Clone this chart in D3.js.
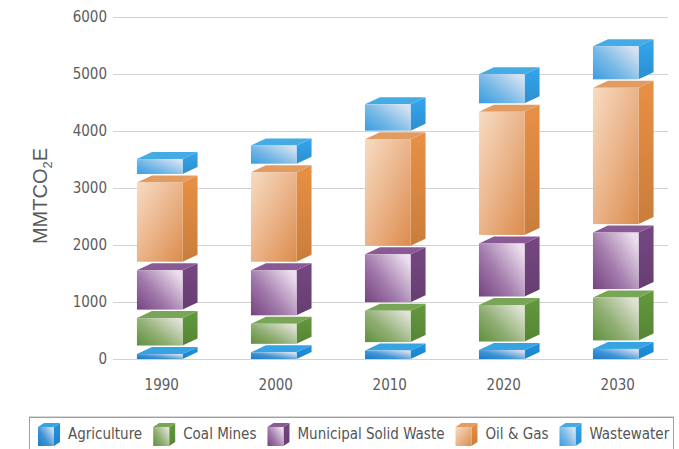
<!DOCTYPE html>
<html>
<head>
<meta charset="utf-8">
<script src="https://cdn.jsdelivr.net/npm/d3@7"></script>
<style>
  html, body { margin: 0; padding: 0; background: #fff; }
  svg { display: block; }
  .narrow { font-family: "DejaVu Sans Condensed", "Liberation Sans Narrow", sans-serif; }
</style>
</head>
<body>
<script>
// Emissions by source, MMTCO2E
const years = ["1990", "2000", "2010", "2020", "2030"];
const seriesNames = ["Agriculture", "Coal Mines", "Municipal Solid Waste", "Oil & Gas", "Wastewater"];
const agriculture = [210, 240, 270, 280, 300];
const coalMines = [630, 500, 700, 790, 900];
const municipalSolidWaste = [840, 940, 990, 1080, 1140];
const oilGas = [1540, 1720, 2020, 2310, 2540];
const wastewater = [410, 470, 610, 660, 730];
const yTicks = [0, 1000, 2000, 3000, 4000, 5000, 6000];

const seriesValues = [agriculture, coalMines, municipalSolidWaste, oilGas, wastewater];
const rows = years.map((yr, i) => {
  const r = { year: yr };
  seriesNames.forEach((s, k) => { r[s] = seriesValues[k][i]; });
  return r;
});

// face shading per source: front gradient stops, top, side
const palette = {
  "Agriculture":           { dir: "bl", f0: "#1f78c4", f1: "#3c95d6", f2: "#d7dcef", top: "#36a4e2", side: "#1c88d2" },
  "Coal Mines":            { dir: "bl", f0: "#5f8f3c", f1: "#8fae72", f2: "#dfe2d4", top: "#79a656", side: "#5b8c38" },
  "Municipal Solid Waste": { dir: "bl", f0: "#74437f", f1: "#a27aab", f2: "#ecdeee", top: "#8a5a95", side: "#6c4177" },
  "Oil & Gas":             { dir: "tl", f0: "#dc8c4c", f1: "#e9b084", f2: "#f7dcc3", top: "#e29c62", side: "#d4843f" },
  "Wastewater":            { dir: "bl", f0: "#3a9ce0", f1: "#76b8e6", f2: "#d6e2f2", top: "#45abe5", side: "#2f97da" }
};

const W = 679, H = 449;
const svg = d3.select("body").append("svg").attr("width", W).attr("height", H);
const defs = svg.append("defs");

seriesNames.forEach((s, k) => {
  const p = palette[s];
  const g = defs.append("linearGradient").attr("id", "front" + k);
  if (p.dir === "bl") g.attr("x1", 0).attr("y1", 1).attr("x2", 1).attr("y2", 0.2);
  else g.attr("x1", 1).attr("y1", 1).attr("x2", 0).attr("y2", 0);
  g.append("stop").attr("offset", "0%").attr("stop-color", p.f0);
  g.append("stop").attr("offset", "45%").attr("stop-color", p.f1);
  g.append("stop").attr("offset", "100%").attr("stop-color", p.f2);
  const sg = defs.append("linearGradient").attr("id", "side" + k)
    .attr("x1", 0).attr("y1", 0).attr("x2", 0).attr("y2", 1);
  sg.append("stop").attr("offset", "0%").attr("stop-color", d3.color(p.side).brighter(0.25));
  sg.append("stop").attr("offset", "100%").attr("stop-color", d3.color(p.side).darker(0.15));
});

const plotLeft = 113, plotRight = 668;
const y = d3.scaleLinear().domain([0, 6000]).range([359, 17]);
const x = d3.scaleBand().domain(years).range([plotLeft, 662.5])
  .paddingInner(0.6).paddingOuter(0.21);

const depthX = 15, depthY = 7, gap = 1.5;

// gridlines
svg.append("g").selectAll("line").data(yTicks).join("line")
  .attr("x1", plotLeft).attr("x2", plotRight)
  .attr("y1", d => Math.round(y(d)) + 0.5).attr("y2", d => Math.round(y(d)) + 0.5)
  .attr("stroke", "#d2d2d2").attr("stroke-width", 1);

// y axis labels
const yAxis = svg.append("g").attr("transform", `translate(${plotLeft},0)`)
  .call(d3.axisLeft(y).tickValues(yTicks).tickSize(0).tickPadding(6).tickFormat(d3.format("d")));
yAxis.select(".domain").remove();
yAxis.selectAll("text").attr("class", "narrow").attr("font-size", 15)
  .attr("font-family", null).attr("fill", "#5c5c5c");

// x axis labels
svg.append("g").selectAll("text").data(years).join("text")
  .attr("class", "narrow")
  .attr("x", d => x(d) + x.bandwidth() / 2 + 2)
  .attr("y", 390)
  .attr("text-anchor", "middle")
  .attr("font-size", 15).attr("fill", "#5c5c5c")
  .text(d => d);

// y axis title
const title = svg.append("text")
  .attr("transform", "translate(47,196) rotate(-90)")
  .attr("text-anchor", "middle")
  .attr("font-family", "Liberation Sans, Arial, sans-serif")
  .attr("font-size", 20).attr("fill", "#5a5a5a");
title.append("tspan").text("MMTCO");
title.append("tspan").attr("font-size", 13).attr("dy", 5).text("2");
title.append("tspan").attr("dy", -5).text("E");

// 3D box helper
function box(g, x0, w, yb, yt, dx, dy, k) {
  const ft = yt + dy;
  g.append("path")
    .attr("d", `M${x0 + w},${yb}L${x0 + w + dx},${yb - dy}L${x0 + w + dx},${yt}L${x0 + w},${ft}Z`)
    .attr("fill", `url(#side${k})`);
  g.append("path")
    .attr("d", `M${x0},${ft}L${x0 + dx},${yt}L${x0 + w + dx},${yt}L${x0 + w},${ft}Z`)
    .attr("fill", palette[seriesNames[k]].top);
  g.append("rect")
    .attr("x", x0).attr("y", ft).attr("width", w).attr("height", Math.max(0, yb - ft))
    .attr("fill", `url(#front${k})`);
}

const stacked = d3.stack().keys(seriesNames)(rows);
const bars = svg.append("g");
stacked.forEach((layer, k) => {
  const lg = bars.append("g").attr("class", "series");
  layer.forEach(d => {
    const yr = d.data.year;
    const yb = d[0] > 0 ? y(d[0]) - gap : y(d[0]);
    const yt = y(d[1]);
    box(lg, x(yr), x.bandwidth(), yb, yt, depthX, depthY, k);
  });
});

// legend
const legend = svg.append("g");
legend.append("rect").attr("x", 29.5).attr("y", 417.5).attr("width", 644).attr("height", 45)
  .attr("fill", "#fff").attr("stroke", "#a0a0a0").attr("stroke-width", 1);
legend.append("line").attr("x1", 29).attr("x2", 674).attr("y1", 416.5).attr("y2", 416.5)
  .attr("stroke", "#d8d8d8").attr("stroke-width", 1);

let lx = 38;
seriesNames.forEach((s, k) => {
  const ig = legend.append("g");
  box(ig, lx, 16, 446, 423, 6, 4, k);
  const t = legend.append("text").attr("class", "narrow")
    .attr("x", lx + 30).attr("y", 439)
    .attr("font-size", 15).attr("fill", "#555")
    .text(s);
  lx = lx + 30 + t.node().getComputedTextLength() + 11;
});
</script>
</body>
</html>
